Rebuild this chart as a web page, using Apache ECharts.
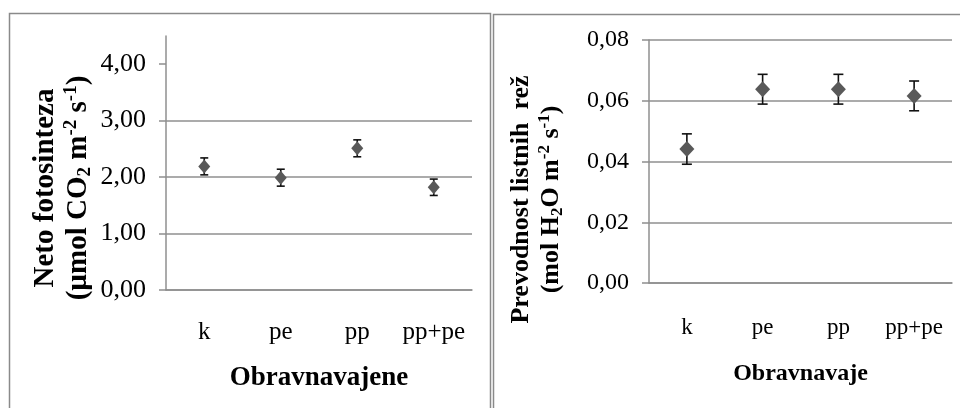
<!DOCTYPE html>
<html>
<head>
<meta charset="utf-8">
<script src="https://cdn.jsdelivr.net/npm/echarts@6/dist/echarts.min.js"></script>
<style>
  html, body { margin: 0; padding: 0; background: #ffffff; }
  #chart { width: 960px; height: 408px; }
</style>
</head>
<body>
<div id="chart"></div>
<script>
// Treatments shown on both panels
const categories = ['k', 'pe', 'pp', 'pp+pe'];

// Net photosynthesis (µmol CO2 m-2 s-1): means and standard errors
const photoMean = [2.19, 1.99, 2.51, 1.82];
const photoErr = [0.15, 0.15, 0.15, 0.145];

// Stomatal conductance (mol H2O m-2 s-1): means and standard errors
const condMean = [0.0441, 0.0638, 0.0638, 0.0616];
const condErr = [0.005, 0.0049, 0.0049, 0.0049];

// Tick values of the two value axes
const photoTicks = [0, 1, 2, 3, 4];
const condTicks = [0, 0.02, 0.04, 0.06, 0.08];

const FONT = '"Liberation Serif", "Times New Roman", serif';
const GRID_GRAY = '#8f8f8f';

const commaFmt = v => Number(v).toFixed(2).replace('.', ',');

// I-beam error bars drawn in data coordinates
function errorBars(capHalf) {
  return function (params, api) {
    const i = api.value(0);
    const hi = api.coord([i, api.value(2)]);
    const lo = api.coord([i, api.value(3)]);
    const st = { stroke: '#111111', lineWidth: 1.6 };
    return {
      type: 'group',
      children: [
        { type: 'line', shape: { x1: hi[0], y1: hi[1], x2: lo[0], y2: lo[1] }, style: st },
        { type: 'line', shape: { x1: hi[0] - capHalf, y1: hi[1], x2: hi[0] + capHalf, y2: hi[1] }, style: st },
        { type: 'line', shape: { x1: lo[0] - capHalf, y1: lo[1], x2: lo[0] + capHalf, y2: lo[1] }, style: st }
      ]
    };
  };
}

function barData(means, errs) {
  return means.map((m, i) => [i, m, m + errs[i], m - errs[i]]);
}

function titleRich(size) {
  const sub = Math.round(size * 0.65);
  return {
    t: { fontFamily: FONT, fontWeight: 'bold', fontSize: size, lineHeight: size + 4, color: '#000' },
    sub: { fontFamily: FONT, fontWeight: 'bold', fontSize: sub, lineHeight: Math.round(size * 0.62), verticalAlign: 'bottom', color: '#000' },
    sup: { fontFamily: FONT, fontWeight: 'bold', fontSize: sub, lineHeight: Math.round(size * 0.7), verticalAlign: 'top', color: '#000' }
  };
}

function xAxisCfg(gridIndex, name, labelSize, nameSize, labelMargin, nameGap) {
  return {
    type: 'category',
    gridIndex: gridIndex,
    data: categories,
    boundaryGap: true,
    axisLine: { show: true, lineStyle: { color: GRID_GRAY, width: 1.5 } },
    axisTick: { show: false },
    axisLabel: { color: '#000', fontFamily: FONT, fontSize: labelSize, margin: labelMargin, interval: 0, hideOverlap: false },
    splitLine: { show: false },
    name: name,
    nameLocation: 'middle',
    nameGap: nameGap,
    nameTextStyle: { color: '#000', fontFamily: FONT, fontWeight: 'bold', fontSize: nameSize }
  };
}

function yAxisCfg(gridIndex, max, interval, ticks, name, rich, labelSize, nameGap, padRight) {
  return {
    type: 'value',
    gridIndex: gridIndex,
    min: 0,
    max: max,
    interval: interval,
    axisLine: { show: true, lineStyle: { color: GRID_GRAY, width: 1.5 } },
    axisTick: { show: true, inside: false, length: 7, customValues: ticks, lineStyle: { color: GRID_GRAY, width: 1.5 } },
    axisLabel: { color: '#000', fontFamily: FONT, fontSize: labelSize, margin: 20, customValues: ticks, formatter: commaFmt },
    splitLine: { show: true, showMinLine: true, showMaxLine: max === ticks[ticks.length - 1], lineStyle: { color: GRID_GRAY, width: 1.5 } },
    name: name,
    nameLocation: 'middle',
    nameRotate: 90,
    nameGap: nameGap,
    nameTextStyle: { rich: rich, align: 'center', padding: [0, padRight, 0, 0] }
  };
}

const chart = echarts.init(document.getElementById('chart'), null, { renderer: 'canvas' });

chart.setOption({
  backgroundColor: '#ffffff',
  animation: false,
  graphic: [
    { type: 'rect', shape: { x: 9.5, y: 13.5, width: 481, height: 420 }, style: { fill: 'none', stroke: '#8a8a8a', lineWidth: 1.5 }, silent: true },
    { type: 'rect', shape: { x: 493.5, y: 14.5, width: 480, height: 420 }, style: { fill: 'none', stroke: '#8a8a8a', lineWidth: 1.5 }, silent: true }
  ],
  grid: [
    { left: 166, right: 488, top: 36, bottom: 118 },
    { left: 649, right: 8, top: 40, bottom: 125 }
  ],
  xAxis: [
    xAxisCfg(0, 'Obravnavajene', 25, 27, 30, 75),
    xAxisCfg(1, 'Obravnavaje', 23, 24, 33, 79)
  ],
  yAxis: [
    yAxisCfg(0, 4.5, 1, photoTicks,
      '{t|Neto fotosinteza}\n{t|(µmol CO}{sub|2}{t| m}{sup|-2}{t| s}{sup|-1}{t|)}',
      titleRich(29), 26, 71, 50),
    yAxisCfg(1, 0.08, 0.02, condTicks,
      '{t|Prevodnost listnih  rež}\n{t|(mol H}{sub|2}{t|O m}{sup|-2}{t| s}{sup|-1}{t|)}',
      titleRich(26), 24, 83, 76)
  ],
  series: [
    {
      type: 'custom',
      xAxisIndex: 0, yAxisIndex: 0,
      renderItem: errorBars(4),
      encode: { x: 0, y: [1, 2, 3] },
      data: barData(photoMean, photoErr),
      z: 2
    },
    {
      type: 'scatter',
      xAxisIndex: 0, yAxisIndex: 0,
      symbol: 'diamond',
      symbolSize: [12, 14],
      itemStyle: { color: '#595959', opacity: 1 },
      data: photoMean,
      z: 3
    },
    {
      type: 'custom',
      xAxisIndex: 1, yAxisIndex: 1,
      renderItem: errorBars(5),
      encode: { x: 0, y: [1, 2, 3] },
      data: barData(condMean, condErr),
      z: 2
    },
    {
      type: 'scatter',
      xAxisIndex: 1, yAxisIndex: 1,
      symbol: 'diamond',
      symbolSize: [15, 16],
      itemStyle: { color: '#595959', opacity: 1 },
      data: condMean,
      z: 3
    }
  ]
});
</script>
</body>
</html>
